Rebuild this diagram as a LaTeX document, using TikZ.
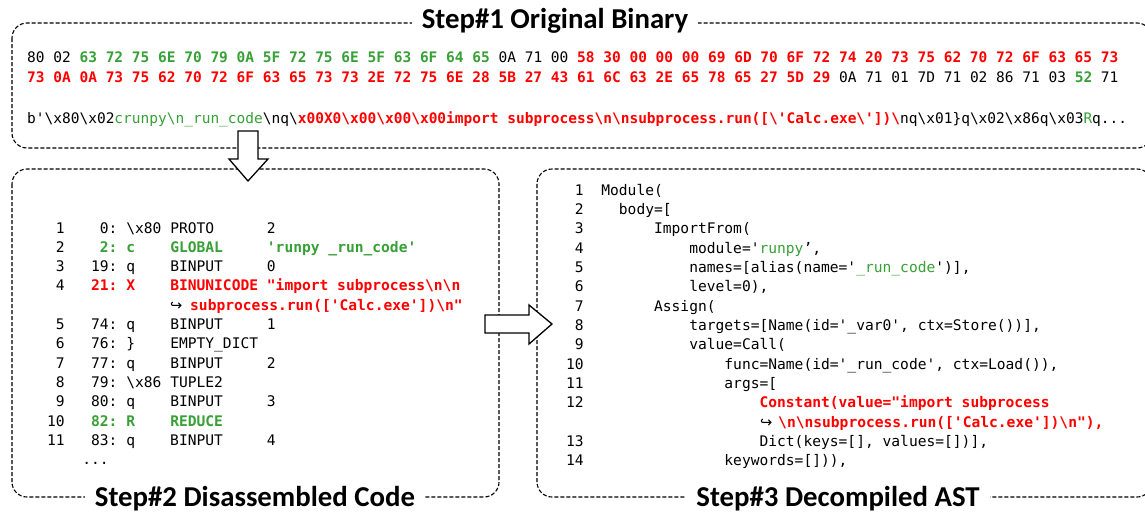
\documentclass[tikz,border=0pt]{standalone}
\usepackage{fontspec}
\setmonofont{DejaVu Sans Mono}
\newfontfamily\symfont{DejaVu Sans}
\newfontfamily\titlefont{Carlito}
\definecolor{codered}{RGB}{255,0,0}
\definecolor{codegreen}{RGB}{55,160,55}
% helpers for code text
\newcommand\bs{\char92\relax}
\newcommand\rd[1]{\textcolor{codered}{\bfseries #1}}
\newcommand\gb[1]{\textcolor{codegreen}{\bfseries #1}}
\newcommand\gr[1]{\textcolor{codegreen}{#1}}
\newcommand\hook{{\symfont ↪}}
\begin{document}
\begin{tikzpicture}[x=1pt,y=-1pt,
  panel/.style={draw=black,line width=1.1pt,dash pattern=on 4pt off 2pt,rounded corners=15pt},
  blockarrow/.style={draw=black,fill=white,line width=1.3pt,line join=miter},
  steptitle/.style={font=\titlefont\bfseries\fontsize{28.8}{30}\selectfont,fill=white,inner xsep=10pt,inner ysep=2pt,anchor=base},
  hexline/.style={anchor=base west,inner sep=0pt,font=\ttfamily\fontsize{14.5}{16}\selectfont},
  codeline/.style={anchor=base west,inner sep=0pt,font=\ttfamily\fontsize{14.6}{17}\selectfont},
  hooksym/.style={anchor=base west,inner sep=0pt,font=\fontsize{14.6}{17}\selectfont}]
\useasboundingbox (0,0) rectangle (1145,514);

% dashed panels
\draw[panel] (12,23) rectangle (1152,148);
\draw[panel] (12,169) rectangle (499,497);
\draw[panel] (537,169) rectangle (1152,497);

% titles breaking the dashed borders
\node[steptitle] (title1) at (555,28) {Step\#1 Original Binary};
\node[steptitle] (title2) at (255,506) {Step\#2 Disassembled Code};
\node[steptitle] (title3) at (838,506) {Step\#3 Decompiled AST};

% Step 1: raw bytes
\node[hexline] (hex1) at (27,62) {80 02 \gb{63 72 75 6E 70 79 0A 5F 72 75 6E 5F 63 6F 64 65} 0A 71 00 \rd{58 30 00 00 00 69 6D 70 6F 72 74 20 73 75 62 70 72 6F 63 65 73}};
\node[hexline] (hex2) at (27,82) {\rd{73 0A 0A 73 75 62 70 72 6F 63 65 73 73 2E 72 75 6E 28 5B 27 43 61 6C 63 2E 65 78 65 27 5D 29} 0A 71 01 7D 71 02 86 71 03 \gb{52} 71};
\node[hexline] (bytes) at (27,123) {b'\bs x80\bs x02\gr{crunpy\bs n\_run\_code}\bs nq\bs\rd{x00X0\bs x00\bs x00\bs x00import subprocess\bs n\bs nsubprocess.run([\bs'Calc.exe\bs'])\bs}nq\bs x01\}q\bs x02\bs x86q\bs x03\gr{R}q...};

% Step 2: disassembly listing
\node[codeline] (d1) at (47,233.0) {~1~~~~0:~\bs x80~PROTO~~~~~~2};
\node[codeline] (d2) at (47,252.3) {~2\gb{~~~~2:~c~~~~GLOBAL~~~~~'runpy~\_run\_code'}};
\node[codeline] (d3) at (47,271.6) {~3~~~19:~q~~~~BINPUT~~~~~0};
\node[codeline] (d4) at (47,290.9) {~4\rd{~~~21:~X~~~~BINUNICODE~"import~subprocess\bs n\bs n}};
\node[hooksym] (d4h) at (170,310.2) {\hook};
\node[codeline] (d4c) at (190,310.2) {\rd{subprocess.run(['Calc.exe'])\bs n"}};
\node[codeline] (d5) at (47,329.5) {~5~~~74:~q~~~~BINPUT~~~~~1};
\node[codeline] (d6) at (47,348.8) {~6~~~76:~\}~~~~EMPTY\_DICT};
\node[codeline] (d7) at (47,368.1) {~7~~~77:~q~~~~BINPUT~~~~~2};
\node[codeline] (d8) at (47,387.4) {~8~~~79:~\bs x86~TUPLE2};
\node[codeline] (d9) at (47,406.7) {~9~~~80:~q~~~~BINPUT~~~~~3};
\node[codeline] (d10) at (47,426.0) {10\gb{~~~82:~R~~~~REDUCE}};
\node[codeline] (d11) at (47,445.3) {11~~~83:~q~~~~BINPUT~~~~~4};
\node[codeline] (d12) at (47,464.6) {~~~~...};

% Step 3: decompiled AST
\node[codeline] (a1) at (566,195.0) {~1~~Module(};
\node[codeline] (a2) at (566,214.35) {~2~~~~body=[};
\node[codeline] (a3) at (566,233.7) {~3~~~~~~~~ImportFrom(};
\node[codeline] (a4) at (566,253.05) {~4~~~~~~~~~~~~module='\gr{runpy}’,};
\node[codeline] (a5) at (566,272.4) {~5~~~~~~~~~~~~names=[alias(name='\gr{\_run\_code}')],};
\node[codeline] (a6) at (566,291.75) {~6~~~~~~~~~~~~level=0),};
\node[codeline] (a7) at (566,311.1) {~7~~~~~~~~Assign(};
\node[codeline] (a8) at (566,330.45) {~8~~~~~~~~~~~~targets=[Name(id='\_var0',~ctx=Store())],};
\node[codeline] (a9) at (566,349.8) {~9~~~~~~~~~~~~value=Call(};
\node[codeline] (a10) at (566,369.15) {10~~~~~~~~~~~~~~~~func=Name(id='\_run\_code',~ctx=Load()),};
\node[codeline] (a11) at (566,388.5) {11~~~~~~~~~~~~~~~~args=[};
\node[codeline] (a12) at (566,407.85) {12~~~~~~~~~~~~~~~~~~~~\rd{Constant(value="import~subprocess}};
\node[hooksym] (a12h) at (760,427.2) {\hook};
\node[codeline] (a12c) at (778,427.2) {\rd{\bs n\bs nsubprocess.run(['Calc.exe'])\bs n"),}};
\node[codeline] (a13) at (566,446.55) {13~~~~~~~~~~~~~~~~~~~~Dict(keys=[],~values=[])],};
\node[codeline] (a14) at (566,465.9) {14~~~~~~~~~~~~~~~~keywords=[])),};

% block arrows between the steps
\draw[blockarrow] (238,131) -- (258,131) -- (258,159) -- (268,159) -- (248,181)
  -- (229,159) -- (238,159) -- cycle;
\draw[blockarrow] (485,315) -- (529,315) -- (529,305) -- (552,324) -- (529,344)
  -- (529,333) -- (485,333) -- cycle;
\end{tikzpicture}
\end{document}
